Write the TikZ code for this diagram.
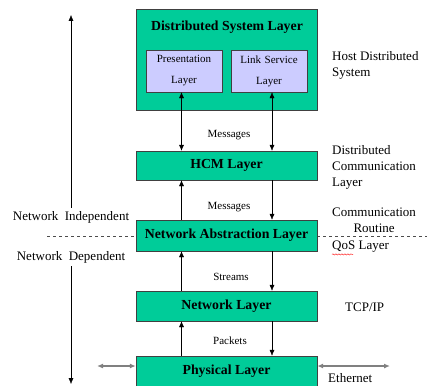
\documentclass[tikz,border=0pt]{standalone}
\usepackage{fontspec}
\setmainfont{Liberation Serif}
\usepackage{tikz}
\usetikzlibrary{decorations.pathmorphing, arrows.meta}
\definecolor{layergreen}{RGB}{0,204,153}
\definecolor{sublilac}{RGB}{204,204,255}
\tikzstyle{Layer}=[rectangle, draw=black!75, fill=layergreen, minimum width=181, minimum height=30, inner sep=0, font=\fontsize{13.8}{15}\selectfont\bfseries]
\tikzstyle{SubLayer}=[rectangle, draw=black!75, fill=sublilac, minimum width=76, minimum height=42, inner sep=0, text width=74, align=center, font=\fontsize{11}{21}\selectfont]
\tikzstyle{Msg}=[font=\fontsize{11}{12}\selectfont]
\tikzstyle{Side}=[anchor=west, align=left, inner sep=0, font=\fontsize{13}{16}\selectfont]

\begin{document}
\begin{tikzpicture}[x=1pt, y=-1pt, >={Latex[length=6,width=5]}]
    \useasboundingbox (0,0) rectangle (427,385);
    \coordinate (dashL) at (47,236);
    \coordinate (dashR) at (427,236);
    \draw[dashed, black!70] (dashL) -- (dashR);

    \path
    (226.5,59.5) node[Layer, minimum height=101] (dsl) {}
    (227,27) node[font=\fontsize{13.8}{15}\selectfont\bfseries] (dsltitle) {Distributed System Layer}
    (184,71) node[SubLayer] (pres) {Presentation\\Layer}
    (269,71) node[SubLayer] (link) {Link Service\\Layer}
    (226.5,165.5) node[Layer, minimum height=29] (hcm) {HCM Layer}
    (226.5,235.5) node[Layer, minimum height=31] (nal) {Network Abstraction Layer}
    (226.5,306) node[Layer] (net) {Network Layer}
    (226.5,371) node[Layer] (phy) {Physical Layer};

    % up / down links between the layers
    \coordinate (ax) at (181.5,0);
    \coordinate (bx) at (272,0);
    \draw[<->] (pres.south -| ax) -- (hcm.north -| ax);
    \draw[<->] (link.south -| bx) -- (hcm.north -| bx);
    \draw[->] (nal.north -| ax) -- (hcm.south -| ax);
    \draw[->] (hcm.south -| bx) -- (nal.north -| bx);
    \draw[->] (net.north -| ax) -- (nal.south -| ax);
    \draw[->] (nal.south -| bx) -- (net.north -| bx);
    \draw[->] (phy.north -| ax) -- (net.south -| ax);
    \draw[->] (net.south -| bx) -- (phy.north -| bx);

    \path (229,135) node[Msg] (msg1) {Messages}
    (229,207) node[Msg] (msg2) {Messages}
    (231,277) node[Msg] (streams) {Streams}
    (230,341) node[Msg] (packets) {Packets};

    \path (332,65) node[Side] (host) {Host Distributed\\System}
    (332,167) node[Side] (dcl) {Distributed\\Communication\\Layer}
    (332,220) node[Side, align=center] (routine) {Communication\\Routine}
    (332,247) node[Side] (qos) {QoS Layer}
    (345,307) node[Side] (tcp) {TCP/IP}
    (328,378) node[Side] (eth) {Ethernet};
    \draw[red, decorate, decoration={snake, amplitude=0.6, segment length=3}] ([yshift=-1.5]qos.south west) -- ([yshift=-1.5, xshift=21]qos.south west);

    % network independent / dependent
    \coordinate (vtop) at (71,15);
    \coordinate (vbot) at (71,384);
    \path (71,217) node[font=\fontsize{13}{15}\selectfont] (indep) {Network\ \ Independent}
    (71,257) node[font=\fontsize{13}{15}\selectfont] (dep) {Network\ \ Dependent};
    \draw[->] (indep.north) -- (vtop);
    \draw[->] (dep.south) -- (vbot);

    % ethernet link
    \coordinate (lanL) at (97,366);
    \coordinate (lanR) at (390,366);
    \draw[<->, gray, line width=1.2] (lanL) -- (phy.west |- lanL);
    \draw[<->, gray, line width=1.2] (phy.east |- lanR) -- (lanR);
\end{tikzpicture}
\end{document}
